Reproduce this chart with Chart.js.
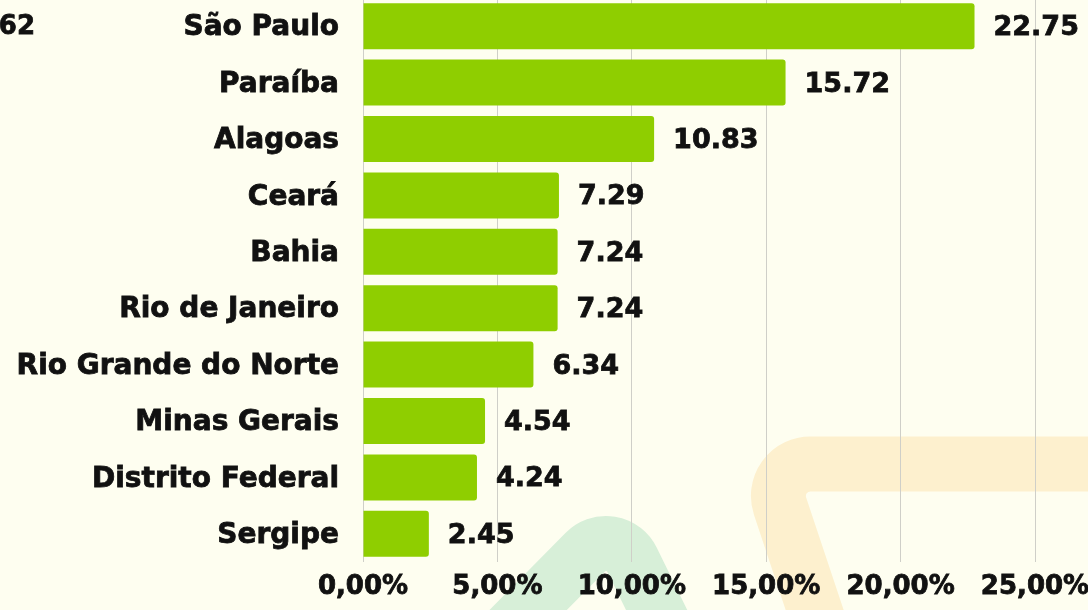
<!DOCTYPE html>
<html>
<head>
<meta charset="utf-8">
<script src="https://cdn.jsdelivr.net/npm/chart.js@4"></script>
<style>
  html, body { margin: 0; padding: 0; background: #FEFEF0; overflow: hidden; }
  body { width: 1088px; height: 610px; position: relative; }
  #wrap { position: absolute; left: 0; top: -2px; width: 1088px; height: 612px; }
</style>
</head>
<body>
<div id="wrap"><canvas id="chart"></canvas></div>
<script>
const categories = ['São Paulo', 'Paraíba', 'Alagoas', 'Ceará', 'Bahia', 'Rio de Janeiro',
                    'Rio Grande do Norte', 'Minas Gerais', 'Distrito Federal', 'Sergipe'];
const values = [22.75, 15.72, 10.83, 7.29, 7.24, 7.24, 6.34, 4.54, 4.24, 2.45];
const axisMin = 0;
const axisMax = 25;
const axisStep = 5;
const cornerText = '62';

const LABEL_FONT = '"DejaVu Sans", sans-serif';
const VALUE_FONT = '"DejaVu Sans", sans-serif';
const INK = '#111';

// fond + formes décoratives derrière le graphique
const backdropPlugin = {
    id: 'backdrop',
    beforeDraw(chart) {
        const { ctx, width, height } = chart;
        ctx.save();
        ctx.fillStyle = '#FEFEF0';
        ctx.fillRect(0, 0, width, height);

        ctx.lineCap = 'butt';
        ctx.lineWidth = 55;

        // arche verte
        ctx.strokeStyle = '#D7EFD8';
        ctx.beginPath();
        ctx.moveTo(465, 676);
        ctx.arcTo(614, 525, 688, 676, 29);
        ctx.lineTo(688, 676);
        ctx.stroke();

        // forme jaune
        ctx.strokeStyle = '#FDF0CE';
        ctx.beginPath();
        ctx.moveTo(828, 652);
        ctx.arcTo(766, 466, 1200, 466, 32);
        ctx.lineTo(1200, 466);
        ctx.stroke();

        ctx.fillStyle = INK;
        ctx.strokeStyle = INK;
        ctx.lineWidth = 0.8;
        ctx.font = 'bold 26px ' + LABEL_FONT;
        ctx.textAlign = 'right';
        ctx.textBaseline = 'alphabetic';
        ctx.fillText(cornerText, 35, 36);
        ctx.strokeText(cornerText, 35, 36);
        ctx.restore();
    },
};

// valeurs à droite des barres
const valueLabels = {
    id: 'value-labels',
    afterDatasetsDraw(chart) {
        const { ctx } = chart;
        const meta = chart.getDatasetMeta(0);
        ctx.save();
        ctx.fillStyle = INK;
        ctx.strokeStyle = INK;
        ctx.lineWidth = 0.8;
        ctx.font = 'bold 27px ' + VALUE_FONT;
        ctx.textAlign = 'left';
        ctx.textBaseline = 'middle';
        meta.data.forEach((bar, i) => {
            const txt = values[i].toFixed(2);
            ctx.fillText(txt, bar.x + 19, bar.y + 2);
            ctx.strokeText(txt, bar.x + 19, bar.y + 2);
        });
        ctx.restore();
    },
};

new Chart(document.getElementById('chart'), {
    type: 'bar',
    plugins: [backdropPlugin, valueLabels],
    data: {
        labels: categories,
        datasets: [{
            data: values,
            backgroundColor: '#8FCE00',
            borderRadius: 3,
            barPercentage: 0.816,
            categoryPercentage: 1,
        }],
    },
    options: {
        indexAxis: 'y',
        responsive: true,
        maintainAspectRatio: false,
        animation: false,
        layout: { padding: { left: 0, top: 0, right: 53, bottom: 0 } },
        plugins: {
            legend: { display: false },
            tooltip: { enabled: false },
        },
        scales: {
            x: {
                min: axisMin,
                max: axisMax,
                grid: { color: '#CFCFC8', lineWidth: 1, drawTicks: false },
                border: { display: false },
                ticks: {
                    stepSize: axisStep,
                    color: INK,
                    textStrokeColor: INK,
                    textStrokeWidth: 0.8,
                    padding: 10,
                    font: { family: LABEL_FONT, size: 26, weight: 'bold' },
                    maxRotation: 0,
                    callback: v => v.toFixed(2).replace('.', ',') + '%',
                },
                afterFit(scale) {
                    scale.height = 48;
                    scale.paddingLeft = 0;
                    scale.paddingRight = 0;
                },
            },
            y: {
                grid: { display: true, drawOnChartArea: false, drawTicks: true, tickLength: 24, tickColor: 'rgba(0,0,0,0)' },
                border: { display: false },
                ticks: {
                    color: INK,
                    textStrokeColor: INK,
                    textStrokeWidth: 0.8,
                    padding: 0,
                    labelOffset: 2,
                    font: { family: LABEL_FONT, size: 28, weight: 'bold' },
                },
                afterFit(scale) {
                    scale.width = 363;
                    scale.paddingTop = 0;
                    scale.paddingBottom = 0;
                },
            },
        },
    },
});
</script>
</body>
</html>
